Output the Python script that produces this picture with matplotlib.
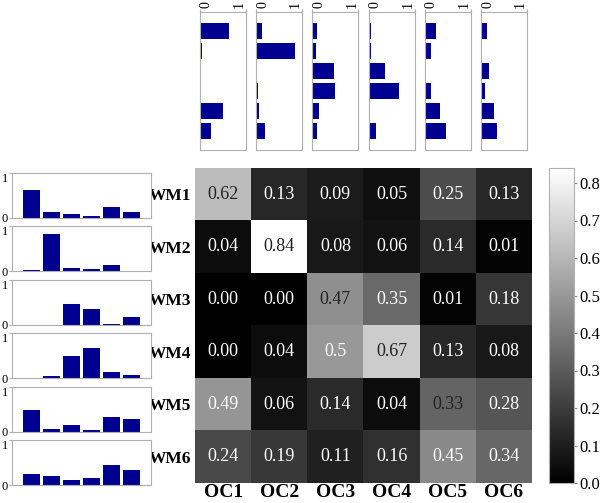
import numpy as np
import matplotlib
matplotlib.use('Agg')
import matplotlib.pyplot as plt

plt.rcParams['font.family'] = ['Liberation Serif', 'DejaVu Serif']

row_labels = ['WM1', 'WM2', 'WM3', 'WM4', 'WM5', 'WM6']
col_labels = ['OC1', 'OC2', 'OC3', 'OC4', 'OC5', 'OC6']
values = [
    [0.62, 0.13, 0.09, 0.05, 0.25, 0.13],
    [0.04, 0.84, 0.08, 0.06, 0.14, 0.01],
    [0.00, 0.00, 0.47, 0.35, 0.01, 0.18],
    [0.00, 0.04, 0.50, 0.67, 0.13, 0.08],
    [0.49, 0.06, 0.14, 0.04, 0.33, 0.28],
    [0.24, 0.19, 0.11, 0.16, 0.45, 0.34],
]
cell_text = [
    ['0.62', '0.13', '0.09', '0.05', '0.25', '0.13'],
    ['0.04', '0.84', '0.08', '0.06', '0.14', '0.01'],
    ['0.00', '0.00', '0.47', '0.35', '0.01', '0.18'],
    ['0.00', '0.04', '0.5', '0.67', '0.13', '0.08'],
    ['0.49', '0.06', '0.14', '0.04', '0.33', '0.28'],
    ['0.24', '0.19', '0.11', '0.16', '0.45', '0.34'],
]
dark_text = {(0, 0), (1, 1), (2, 2), (3, 3), (4, 4)}

M = np.array(values)
W, H = 600, 503
bar_color = '#000090'
spine_color = '#b0b0b0'


def px(x0, y0, x1, y1):
    return [x0 / W, 1 - y1 / H, (x1 - x0) / W, (y1 - y0) / H]


fig = plt.figure(figsize=(6, 5.03), dpi=100)

# heatmap
ax = fig.add_axes(px(195, 168, 532, 483))
im = ax.imshow(M, cmap='gray', vmin=0, vmax=0.84, aspect='auto')
for i in range(6):
    for j in range(6):
        c = '#222222' if (i, j) in dark_text else 'white'
        ax.text(j, i, cell_text[i][j], ha='center', va='center', fontsize=13, color=c)
ax.set_xticks(range(6))
ax.set_xticklabels(col_labels, fontsize=14, fontweight='bold')
ax.set_yticks(range(6))
ax.set_yticklabels(row_labels, fontsize=12.5, fontweight='bold')
ax.tick_params(axis='x', length=0, pad=1)
ax.tick_params(axis='y', length=0, pad=3)
for s in ax.spines.values():
    s.set_visible(False)

# colorbar
cax = fig.add_axes(px(549, 168, 574, 483))
cb = fig.colorbar(im, cax=cax, ticks=np.arange(0, 0.81, 0.1))
cb.ax.set_yticklabels(['0.0', '0.1', '0.2', '0.3', '0.4', '0.5', '0.6', '0.7', '0.8'])
cb.ax.tick_params(labelsize=12, length=2, color='#888888', pad=2)
cb.outline.set_edgecolor(spine_color)

# left bar charts (rows)
for i in range(6):
    top = 173 + 53.4 * i
    a = fig.add_axes(px(12, top, 151, top + 45))
    a.bar(range(6), M[i], width=0.85, color=bar_color)
    a.set_xlim(-1.0, 6.0)
    a.set_ylim(0, 1)
    a.set_yticks([0, 1])
    labs = a.set_yticklabels(['0', '1'], fontsize=9)
    labs[1].set_va('top')
    a.set_xticks([])
    a.tick_params(axis='y', length=2, pad=1, color=spine_color)
    for s in a.spines.values():
        s.set_color(spine_color)
        s.set_linewidth(0.8)

# top bar charts (columns)
for j in range(6):
    left = 200 + 56.2 * j
    a = fig.add_axes(px(left, 12, left + 46, 150))
    a.barh(range(6), M[:, j], height=0.8, color=bar_color)
    a.set_ylim(5.95, -0.95)
    a.set_xlim(0, 1)
    a.xaxis.tick_top()
    a.set_xticks([0, 1])
    a.set_xticklabels(['0', '1'], fontsize=10)
    a.tick_params(axis='x', length=2, pad=1, color=spine_color, labelrotation=90)
    ticks = a.xaxis.get_major_ticks()
    ticks[0].label2.set_ha('left')
    ticks[1].label2.set_ha('right')
    a.set_yticks([])
    for s in a.spines.values():
        s.set_color(spine_color)
        s.set_linewidth(0.8)

fig.savefig('out.png', dpi=100)
